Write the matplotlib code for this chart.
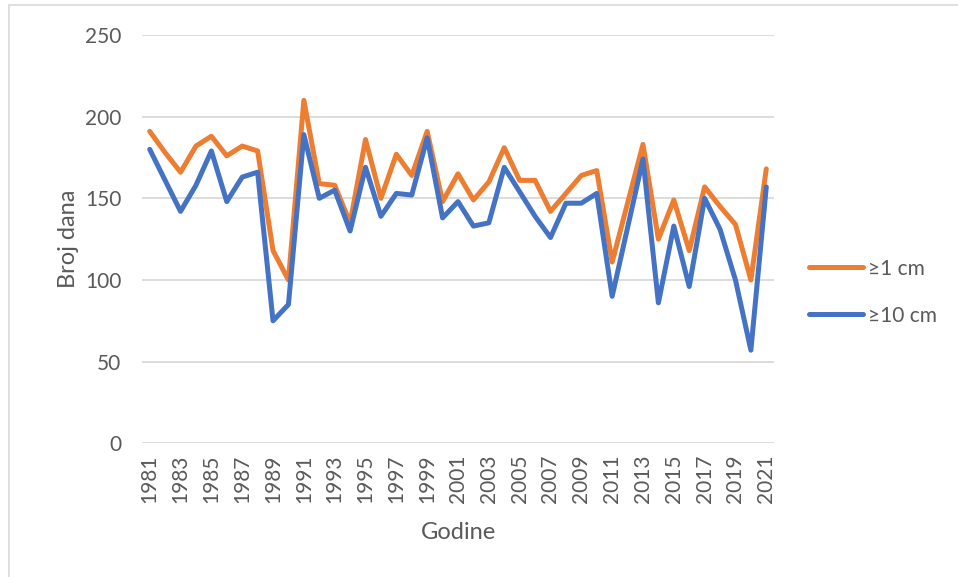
import matplotlib.pyplot as plt
from matplotlib.patches import Rectangle

plt.rcParams['font.family'] = ['Lato', 'DejaVu Sans']

# data
godine = list(range(1981, 2022))
snijeg_1cm = [191, 178, 166, 182, 188, 176, 182, 179, 118, 100,
              210, 159, 158, 135, 186, 150, 177, 164, 191, 148,
              165, 149, 160, 181, 161, 161, 142, 153, 164, 167,
              111, 147, 183, 125, 149, 118, 157, 145, 134, 100,
              168]
snijeg_10cm = [180, 161, 142, 158, 179, 148, 163, 166, 75, 85,
               189, 150, 155, 130, 169, 139, 153, 152, 187, 138,
               148, 133, 135, 169, 154, 139, 126, 147, 147, 153,
               90, 132, 174, 86, 133, 96, 150, 131, 100, 57,
               157]
oznake = [str(g) for g in godine[::2]]

siva = '#595959'

fig = plt.figure(figsize=(9.58, 5.77), dpi=100)
ax = fig.add_axes([142 / 958, 1 - 443.3 / 577, (774 - 142) / 958, (443.3 - 35) / 577])

ax.plot(godine, snijeg_1cm, color='#ED7D31', lw=3.6, label='≥1 cm', solid_joinstyle='round', solid_capstyle='round')
ax.plot(godine, snijeg_10cm, color='#4472C4', lw=3.6, label='≥10 cm', solid_joinstyle='round', solid_capstyle='round')

ax.set_xlim(1980.5, 2021.5)
ax.set_ylim(0, 250)
ax.set_yticks(range(0, 251, 50))
ax.set_xticks(godine[::2])
ax.set_xticklabels(oznake, rotation=90)
ax.yaxis.grid(True, color='#D9D9D9', lw=1.3)
ax.set_axisbelow(True)
for s in ax.spines.values():
    s.set_visible(False)
ax.tick_params(length=0, labelsize=15, labelcolor=siva)
ax.tick_params(axis='y', pad=15)
ax.tick_params(axis='x', pad=8)

ax.set_ylabel('Broj dana', fontsize=17, color=siva, labelpad=4)
ax.set_xlabel('Godine', fontsize=17, color=siva, labelpad=14)

ax.legend(loc='center left', bbox_to_anchor=(1.025, 0.37), frameon=False,
          fontsize=15, labelcolor=siva, handlelength=2.6, handletextpad=0.25,
          labelspacing=1.3)

# chart frame
fig.patches.append(Rectangle((9 / 958, -0.05), 1.1, 1 - 5 / 577 + 0.05, transform=fig.transFigure,
                             fill=False, edgecolor='#D9D9D9', lw=1.2))

fig.savefig('out.png', dpi=100)
